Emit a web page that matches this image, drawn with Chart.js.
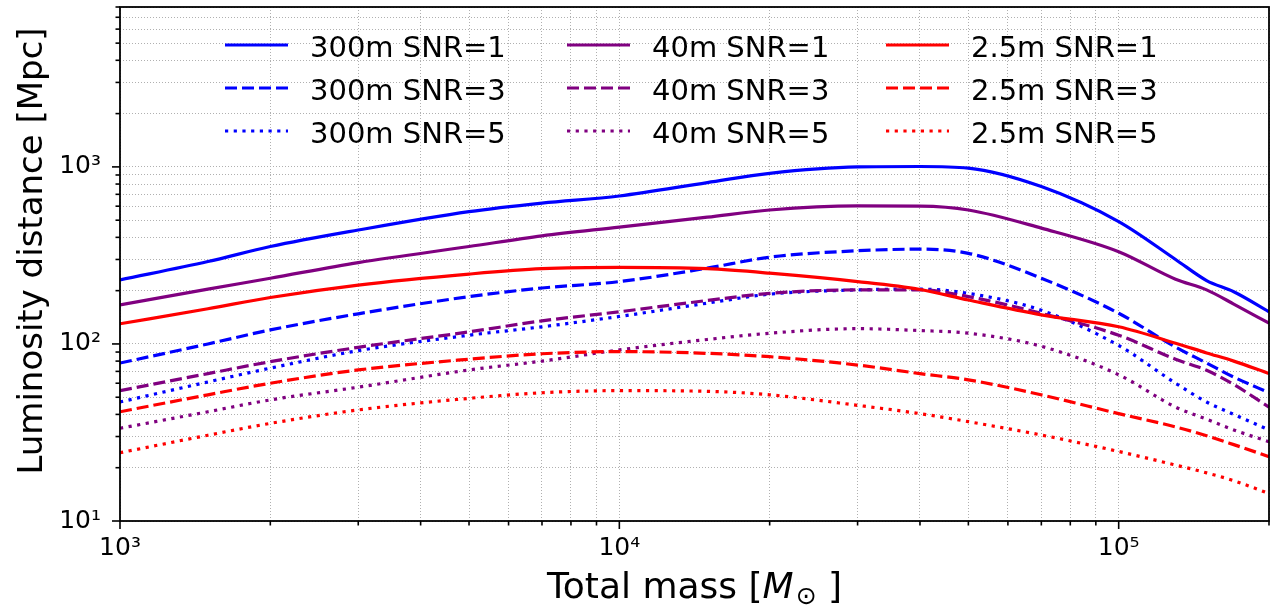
<!DOCTYPE html>
<html><head><meta charset="utf-8">
<script src="https://cdn.jsdelivr.net/npm/chart.js@4.4.0/dist/chart.umd.min.js"></script>
<style>html,body{margin:0;padding:0;background:#fff;overflow:hidden}</style>
</head><body>
<canvas id="c" width="1271" height="606" style="width:1271px;height:606px;display:block"></canvas>
<script>
// ---- data ----
const masses = [1000,1500,2000,3000,5000,7000,10000,15000,20000,30000,40000,50000,70000,100000,130000,150000,170000,200000];
const d300snr1 = [230,292,355,440,559,625,685,815,920,1000,1005,984,774,491,300,228,197,152];
const d300snr3 = [78,100,120,148,185,207,225,268,309,336,343,325,235,149,96,78,65,53];
const d300snr5 = [47,61,73,91.6,112,125,143,170,191,202,204,193,155,98,60,47,40,32.7];
const d40snr1  = [166,204,235,288,355,408,457,520,571,602,600,571,451,332,232,202,168,131];
const d40snr3  = [54.5,68,79.4,95.7,117,135,152,176,193,202,202,185,149,112,82,71,59,44];
const d40snr5  = [33.4,41.4,48.3,57,71.3,80,92.5,106,115,122,119,115,97,67,44,37.6,32.7,28];
const d25snr1  = [130,158,183,215,248,266,271,266,251,225,203,177,146,125,101,89,80,68];
const d25snr3  = [41.4,51.6,60,71.3,82,88,90.5,88.5,84.7,76,68,62.7,51.6,40.4,34,30.3,27,23.1];
const d25snr5  = [24.3,30.5,35.6,42.4,49.3,53,54.5,54,51.6,45,40.4,36.4,30.6,24.7,20.7,18.7,16.9,14.3];
const seriesLabels = ['300m SNR=1','300m SNR=3','300m SNR=5','40m SNR=1','40m SNR=3','40m SNR=5','2.5m SNR=1','2.5m SNR=3','2.5m SNR=5'];

const xTicks = [1000,2000,3000,4000,5000,6000,7000,8000,9000,10000,20000,30000,40000,50000,60000,70000,80000,90000,100000,200000];
const yTicks = [10,20,30,40,50,60,70,80,90,100,200,300,400,500,600,700,800,900,1000,2000,3000,4000,5000,6000,7000,8000];
const xMajorTicks = [1000,10000,100000];
const xMajorLabels = ['10³','10⁴','10⁵'];
const yMajorTicks = [10,100,1000];
const yMajorLabels = ['10¹','10²','10³'];
const xTitle = ['Total mass [', 'M', '⊙', ' ]'];
const yTitle = 'Luminosity distance [Mpc]';

// ---- styles ----
const FONT = 'DejaVu Sans';
const BLUE = '#0000ff', PURPLE = '#800080', RED = '#ff0000';
const SOLID = [], DASH = [12,5], DOT = [3.2,5.5];
const seriesData = [d300snr1,d300snr3,d300snr5,d40snr1,d40snr3,d40snr5,d25snr1,d25snr3,d25snr5];
const seriesColors = [BLUE,BLUE,BLUE,PURPLE,PURPLE,PURPLE,RED,RED,RED];
const seriesDash = [SOLID,DASH,DOT,SOLID,DASH,DOT,SOLID,DASH,DOT];

const datasets = seriesData.map((arr, i) => ({
  label: seriesLabels[i],
  data: arr.map((v, k) => ({x: masses[k], y: v})),
  borderColor: seriesColors[i],
  backgroundColor: seriesColors[i],
  borderDash: seriesDash[i],
  borderWidth: 3.2,
  borderCapStyle: 'butt',
  pointRadius: 0,
  fill: false,
  cubicInterpolationMode: 'monotone',
  order: 9 - i
}));

const decor = {
  id: 'decor',
  afterDraw(chart) {
    const ctx = chart.ctx;
    const a = chart.chartArea;
    const xs = chart.scales.x, ys = chart.scales.y;
    ctx.save();
    // tick marks
    ctx.strokeStyle = '#000';
    ctx.lineWidth = 1.6;
    ctx.setLineDash([]);
    xTicks.forEach(v => {
      const px = xs.getPixelForValue(v);
      const len = xMajorTicks.includes(v) ? 8 : 4.5;
      ctx.beginPath(); ctx.moveTo(px, a.bottom); ctx.lineTo(px, a.bottom + len); ctx.stroke();
    });
    yTicks.forEach(v => {
      const py = ys.getPixelForValue(v);
      const len = yMajorTicks.includes(v) ? 8 : 4.5;
      ctx.beginPath(); ctx.moveTo(a.left, py); ctx.lineTo(a.left - len, py); ctx.stroke();
    });
    // frame
    ctx.lineWidth = 1.8;
    ctx.strokeRect(a.left, a.top, a.right - a.left, a.bottom - a.top);

    // legend (3 columns, column-major)
    const lineX = [225, 567, 886];
    const rowY = [45, 88, 131];
    chart.data.datasets.forEach((ds, i) => {
      const col = Math.floor(i / 3), row = i % 3;
      const y = rowY[row];
      ctx.strokeStyle = ds.borderColor;
      ctx.lineWidth = 3.2;
      ctx.lineCap = 'butt';
      ctx.setLineDash(ds.borderDash);
      ctx.beginPath(); ctx.moveTo(lineX[col], y); ctx.lineTo(lineX[col] + 63, y); ctx.stroke();
      ctx.setLineDash([]);
      ctx.fillStyle = '#000';
      ctx.font = '29px "' + FONT + '"';
      ctx.textAlign = 'left';
      ctx.textBaseline = 'alphabetic';
      ctx.fillText(ds.label, lineX[col] + 85, y + 12);
    });

    // x title
    const big = '36px "' + FONT + '"', ital = 'italic 36px "' + FONT + '"', small = '25px "' + FONT + '"';
    ctx.fillStyle = '#000';
    ctx.textBaseline = 'alphabetic';
    ctx.textAlign = 'left';
    ctx.font = big; const w0 = ctx.measureText(xTitle[0]).width, w3 = ctx.measureText(xTitle[3]).width;
    ctx.font = ital; const w1 = ctx.measureText(xTitle[1]).width;
    ctx.font = small; const w2 = ctx.measureText(xTitle[2]).width;
    const total = w0 + w1 + 2 + w2 + w3;
    let x0 = (a.left + a.right) / 2 - total / 2;
    const by = 598;
    ctx.font = big; ctx.fillText(xTitle[0], x0, by); x0 += w0;
    ctx.font = ital; ctx.fillText(xTitle[1], x0, by); x0 += w1 + 2;
    ctx.font = small; ctx.fillText(xTitle[2], x0, by + 6); x0 += w2;
    ctx.font = big; ctx.fillText(xTitle[3], x0, by);

    // y title
    ctx.save();
    ctx.translate(42, 251);
    ctx.rotate(-Math.PI / 2);
    ctx.font = '34px "' + FONT + '"';
    ctx.textAlign = 'center';
    ctx.fillText(yTitle, 0, 0);
    ctx.restore();
    ctx.restore();
  }
};

new Chart(document.getElementById('c'), {
  type: 'line',
  data: { datasets },
  options: {
    responsive: false,
    devicePixelRatio: 1,
    animation: false,
    layout: { padding: { top: 7, right: 2, left: 0, bottom: 0 } },
    plugins: { legend: { display: false }, tooltip: { enabled: false }, title: { display: false } },
    scales: {
      x: {
        type: 'logarithmic', position: 'bottom', min: 1000, max: 200000,
        afterBuildTicks: s => { s.ticks = xTicks.map(v => ({ value: v, major: xMajorTicks.includes(v) })); },
        afterFit: s => { s.height = 85; s.paddingLeft = 0; s.paddingRight = 0; },
        ticks: {
          autoSkip: false, maxRotation: 0, minRotation: 0, padding: 12, color: '#000',
          font: { family: FONT, size: 25 },
          callback: v => { const k = xMajorTicks.indexOf(v); return k >= 0 ? xMajorLabels[k] : ''; }
        },
        grid: { color: '#b0b0b0', lineWidth: 1, drawTicks: false },
        border: { display: false, dash: [1, 2] }
      },
      y: {
        type: 'logarithmic', position: 'left', min: 10, max: 8000,
        afterBuildTicks: s => { s.ticks = yTicks.map(v => ({ value: v, major: yMajorTicks.includes(v) })); },
        afterFit: s => { s.width = 120; s.paddingTop = 0; s.paddingBottom = 0; },
        ticks: {
          autoSkip: false, padding: 19, color: '#000',
          font: { family: FONT, size: 25 },
          callback: v => { const k = yMajorTicks.indexOf(v); return k >= 0 ? yMajorLabels[k] : ''; }
        },
        grid: { color: '#b0b0b0', lineWidth: 1, drawTicks: false },
        border: { display: false, dash: [1, 2] }
      }
    }
  },
  plugins: [decor]
});
</script>
</body></html>
